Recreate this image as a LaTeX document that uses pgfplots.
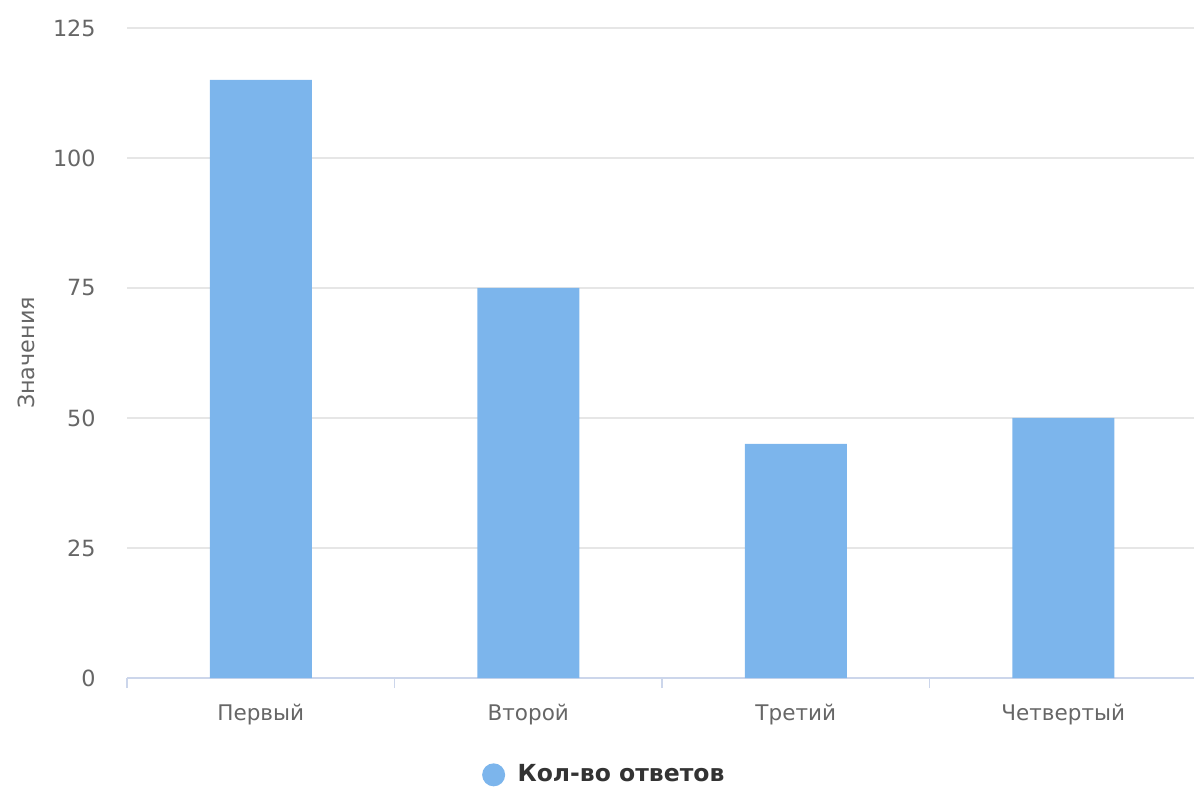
\documentclass[border=0pt]{standalone}
\usepackage{pgfplots}
\pgfplotsset{compat=1.18}
\usepackage{fontspec}
\setmainfont{DejaVu Sans}
\definecolor{barblue}{HTML}{7CB5EC}
\definecolor{gridc}{HTML}{E6E6E6}
\definecolor{axisc}{HTML}{CCD6EB}
\definecolor{txt}{HTML}{666666}
\definecolor{legtxt}{HTML}{333333}
\begin{document}
\begin{tikzpicture}
\useasboundingbox (0,0) rectangle (597bp,394.5bp);
\begin{axis}[
  at={(63.5bp,55.5bp)}, anchor=south west,
  scale only axis, width=535bp, height=325bp,
  xmin=-0.5, xmax=3.5, ymin=0, ymax=125,
  axis x line*=bottom, axis y line*=left,
  x axis line style={axisc, line width=0.6pt},
  y axis line style={draw=none},
  xtick={0,1,2,3},
  xticklabels={Первый, Второй, Третий, Четвертый},
  major x tick style={draw=none},
  minor xtick={-0.5,0.5,1.5,2.5,3.5},
  minor x tick style={axisc, line width=0.6pt},
  minor tick length=5bp,
  xtick align=outside,
  ytick={0,25,50,75,100,125},
  ymajorgrids, grid style={gridc, line width=0.6pt},
  major y tick style={draw=none},
  xticklabel style={font=\fontsize{10.8}{12}\selectfont, text=txt, inner sep=0pt, yshift=-8.5bp},
  yticklabel style={font=\fontsize{11.2}{12}\selectfont, text=txt, inner sep=0pt, xshift=-15.5bp},
  /pgf/number format/assume math mode=true,
  ylabel={Значения},
  every axis y label/.style={at={(axis description cs:-0.094,0.5)}, rotate=90, anchor=center, font=\fontsize{11.2}{12}\selectfont, text=txt},
  legend style={at={(0.447,-0.149)}, anchor=center, draw=none, fill=none, font=\fontsize{11.8}{13}\selectfont\bfseries, text=legtxt},
  legend image code/.code={\fill[barblue] (-2bp,0bp) circle (5.75bp); \path (-7.75bp,0bp) (8bp,0bp);},
  clip=false,
]
\addplot[ybar, bar width=51bp, fill=barblue, draw=none] coordinates {(0,115) (1,75) (2,45) (3,50)};
\addlegendentry{Кол-во ответов}
\end{axis}
\end{tikzpicture}
\end{document}
